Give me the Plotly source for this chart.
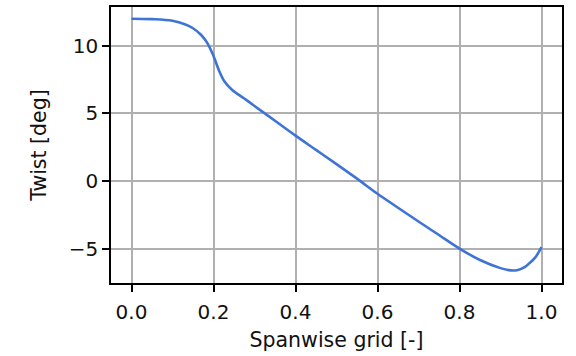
import plotly.graph_objects as go

span = [0.0, 0.05, 0.1, 0.13, 0.15, 0.17, 0.185, 0.2, 0.213, 0.226, 0.245,
        0.275, 0.3, 0.35, 0.4, 0.45, 0.5, 0.55, 0.6, 0.65, 0.7, 0.75, 0.8,
        0.85, 0.9, 0.92, 0.94, 0.96, 0.97, 0.985, 1.0]
twist = [12.0, 11.97, 11.85, 11.6, 11.3, 10.8, 10.2, 9.25, 8.2, 7.4, 6.75,
         6.1, 5.55, 4.45, 3.35, 2.3, 1.25, 0.17, -0.95, -1.98, -3.0, -4.0, -5.0,
         -5.85, -6.45, -6.6, -6.6, -6.35, -6.1, -5.65, -4.9]

x_ticks = [0.0, 0.2, 0.4, 0.6, 0.8, 1.0]
y_ticks = [-5, 0, 5, 10]

fig = go.Figure()
fig.add_trace(go.Scatter(x=span, y=twist, mode="lines",
                         line=dict(color="#3e74d6", width=2.6, shape="spline", smoothing=1.0),
                         showlegend=False))

axis_common = dict(showline=True, linecolor="black", linewidth=1.6, mirror=True,
                   ticks="outside", ticklen=7, tickwidth=1.6, tickcolor="black",
                   showgrid=True, gridcolor="#b0b0b0", gridwidth=1.6, zeroline=False,
                   tickfont=dict(family="DejaVu Sans", size=20, color="#111111"))

fig.update_layout(
    width=576, height=356,
    margin=dict(l=111, r=14, t=5, b=73),
    paper_bgcolor="white", plot_bgcolor="white",
    font=dict(family="DejaVu Sans", size=20, color="#111111"),
    xaxis=dict(range=[-0.05, 1.05], tickvals=x_ticks, tickformat=".1f",
               ticklabelstandoff=3,
               title=dict(text="Spanwise grid [-]", standoff=10, font=dict(size=20.5)),
               **axis_common),
    yaxis=dict(range=[-7.55, 12.87], tickvals=y_ticks,
               title=dict(text="Twist [deg]", standoff=17, font=dict(size=20.5)),
               **axis_common),
)

fig.write_html("out.html")
